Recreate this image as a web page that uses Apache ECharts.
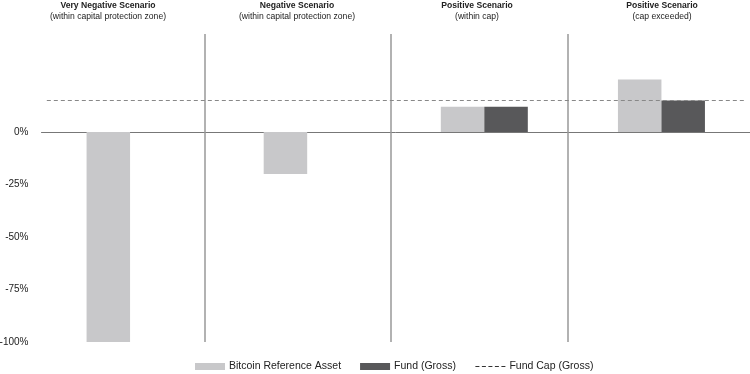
<!DOCTYPE html>
<html><head><meta charset="utf-8">
<script src="https://cdn.jsdelivr.net/npm/echarts@6/dist/echarts.min.js"></script>
<style>html,body{margin:0;padding:0;background:#fff}#c{width:750px;height:374px}</style>
</head><body><div id="c"></div>
<script>
const categories = ['Very Negative', 'Negative', 'Positive (within cap)', 'Positive (cap exceeded)'];
const scenarioTitles = ['Very Negative Scenario', 'Negative Scenario', 'Positive Scenario', 'Positive Scenario'];
const scenarioSubtitles = ['(within capital protection zone)', '(within capital protection zone)', '(within cap)', '(cap exceeded)'];
const bitcoinValues = [-100, -20, 12, 25];
const fundValues = [0, 0, 12, 15];
const fundCap = 15;
const separatorsAt = [0.416, 1.47, 2.47];
const yTicks = [-100, -75, -50, -25, 0];

const FONT = '"Liberation Sans", Arial, Helvetica, sans-serif';
const chart = echarts.init(document.getElementById('c'), null, {renderer: 'canvas'});
const titlePos = [108, 297, 477, 662];
chart.setOption({
  animation: false,
  title: scenarioTitles.map((t, i) => ({
    text: t, subtext: scenarioSubtitles[i],
    left: titlePos[i], top: 1.5, textAlign: 'center', itemGap: 1.5, padding: 0,
    textStyle: {fontFamily: FONT, fontSize: 8.6, fontWeight: 'bold', color: '#222'},
    subtextStyle: {fontFamily: FONT, fontSize: 8.6, color: '#222'}
  })),
  grid: {left: 41.5, right: 0, top: 34, bottom: 32, outerBoundsMode: 'none', containLabel: false},
  legend: {
    bottom: 2, left: 195, padding: 0, itemWidth: 30, itemHeight: 7, itemGap: 19,
    textStyle: {fontFamily: FONT, fontSize: 10.5, color: '#222', padding: [0, 0, 0, -1]},
    data: [
      {name: 'Bitcoin Reference Asset', icon: 'rect'},
      {name: 'Fund (Gross)', icon: 'rect'},
      {name: 'Fund Cap (Gross)', itemStyle: {opacity: 0}, lineStyle: {color: '#333', width: 1, type: [4, 2.5]}}
    ]
  },
  xAxis: [
    {type: 'category', data: categories, axisLine: {onZero: true, lineStyle: {color: '#777', width: 1}},
     axisTick: {show: false}, axisLabel: {show: false}, splitLine: {show: false}},
    {type: 'value', min: -0.5, max: 3.5, show: false}
  ],
  yAxis: {
    type: 'value', min: -100, max: 46.67, interval: 25,
    axisLine: {show: false}, axisTick: {show: false}, splitLine: {show: false},
    axisLabel: {fontFamily: FONT, fontSize: 10, color: '#222', margin: 13,
      formatter: v => (yTicks.indexOf(v) >= 0 ? v + '%' : ''), showMaxLabel: false}
  },
  series: [
    {name: 'Bitcoin Reference Asset', type: 'bar', data: bitcoinValues, barWidth: 43.5, barGap: '0%',
     itemStyle: {color: '#c8c8ca'}},
    {name: 'Fund (Gross)', type: 'bar', data: fundValues, barWidth: 43.5,
     itemStyle: {color: '#58585a'}},
    {name: 'Fund Cap (Gross)', type: 'line', xAxisIndex: 1, symbol: 'none',
     data: [[-0.47, fundCap], [3.48, fundCap]],
     lineStyle: {color: '#888', width: 1.2, type: [4, 3]}, itemStyle: {color: '#888'}, z: 5},
    {name: 'sep', type: 'line', xAxisIndex: 1, data: [], symbol: 'none',
     markLine: {silent: true, symbol: 'none', label: {show: false},
       lineStyle: {color: '#999', width: 1.5, type: 'solid'},
       data: separatorsAt.map(x => ({xAxis: x}))}}
  ]
});
</script></body></html>
